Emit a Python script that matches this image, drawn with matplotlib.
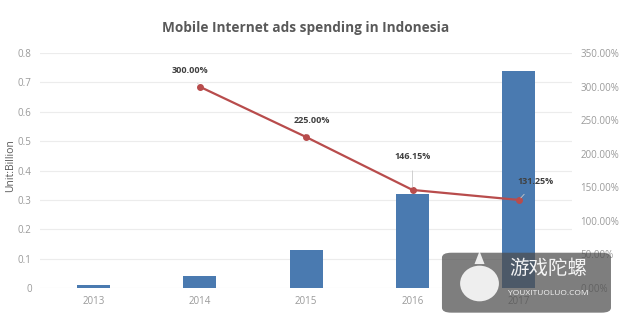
import matplotlib.pyplot as plt
from matplotlib.patches import FancyBboxPatch, Ellipse, Polygon

years = ["2013", "2014", "2015", "2016", "2017"]
spending = [0.01, 0.04, 0.13, 0.32, 0.74]
growth = [None, 300.00, 225.00, 146.15, 131.25]
left_ticks = [0, 0.1, 0.2, 0.3, 0.4, 0.5, 0.6, 0.7, 0.8]
right_ticks = [0, 50, 100, 150, 200, 250, 300, 350]

plt.rcParams["font.family"] = ["Open Sans", "Noto Sans CJK SC", "DejaVu Sans"]

BAR = "#4a7ab0"
LINE = "#b84c4c"
TXT = "#9a9a9a"

fig = plt.figure(figsize=(6.26, 3.24), dpi=100)
ax = fig.add_axes([0.064, 0.111, 0.85, 0.725])
x = list(range(len(years)))
ax.bar(x, spending, width=0.31, color=BAR, zorder=2)
ax.set_xlim(-0.5, 4.5)
ax.set_ylim(0, 0.8)
ax.set_yticks(left_ticks)
ax.set_yticklabels(["0"] + [f"{t:.1f}" for t in left_ticks[1:]])
ax.set_xticks(x)
ax.set_xticklabels(years)
ax.grid(axis="y", color="#ececec", linewidth=0.8, zorder=0)
for s in ax.spines.values():
    s.set_visible(False)
ax.tick_params(length=0, labelsize=7, colors=TXT, pad=6)
ax.tick_params(axis="x", pad=6)
ax.set_ylabel("Unit:Billion", fontsize=7.5, color="#595959")
ax.yaxis.set_label_coords(-0.045, 0.52)

ax2 = ax.twinx()
ax2.set_ylim(0, 350)
ax2.set_yticks(right_ticks)
ax2.set_yticklabels([f"{t:.2f}%" for t in right_ticks])
for s in ax2.spines.values():
    s.set_visible(False)
ax2.tick_params(length=0, labelsize=7, colors=TXT, pad=6)

gx = [i for i, g in enumerate(growth) if g is not None]
gy = [g for g in growth if g is not None]
ax2.plot(gx, gy, color=LINE, linewidth=1.6, marker="o", markersize=4, zorder=3)

# data labels with short leader lines (offsets in points)
offsets = {1: (-7, 12), 2: (4, 12), 3: (0, 24), 4: (12, 13)}
for i, g in zip(gx, gy):
    dx, dy = offsets[i]
    ax2.annotate(f"{g:.2f}%", xy=(i, g), xytext=(dx, dy), textcoords="offset points",
                 ha="center", va="center", fontsize=6.5, fontweight="bold", color="#404040",
                 arrowprops=dict(arrowstyle="-", color="#c8c8c8", linewidth=0.6,
                                 shrinkA=5, shrinkB=2))

fig.text(0.488, 0.913, "Mobile Internet ads spending in Indonesia", ha="center", va="center",
         fontsize=9.8, fontweight="bold", color="#595959")

# watermark
box = FancyBboxPatch((0.706, 0.035), 0.27, 0.185, boxstyle="round,pad=0,rounding_size=0.015",
                     transform=fig.transFigure, facecolor="#4d4d4d", alpha=0.72,
                     edgecolor="none", zorder=10)
fig.patches.append(box)
fig.patches.append(Ellipse((0.766, 0.125), 0.062, 0.11, transform=fig.transFigure,
                           facecolor="white", alpha=0.88, zorder=11))
fig.patches.append(Polygon([(0.758, 0.185), (0.774, 0.185), (0.766, 0.225)],
                           closed=True, transform=fig.transFigure,
                           facecolor="white", alpha=0.88, zorder=11))
fig.text(0.876, 0.172, "游戏陀螺", ha="center", va="center", fontsize=14,
         color="white", alpha=0.92, zorder=12)
fig.text(0.876, 0.093, "YOUXITUOLUO.COM", ha="center", va="center", fontsize=6,
         color="white", alpha=0.92, zorder=12)

fig.savefig("out.png", dpi=100, facecolor="white")
